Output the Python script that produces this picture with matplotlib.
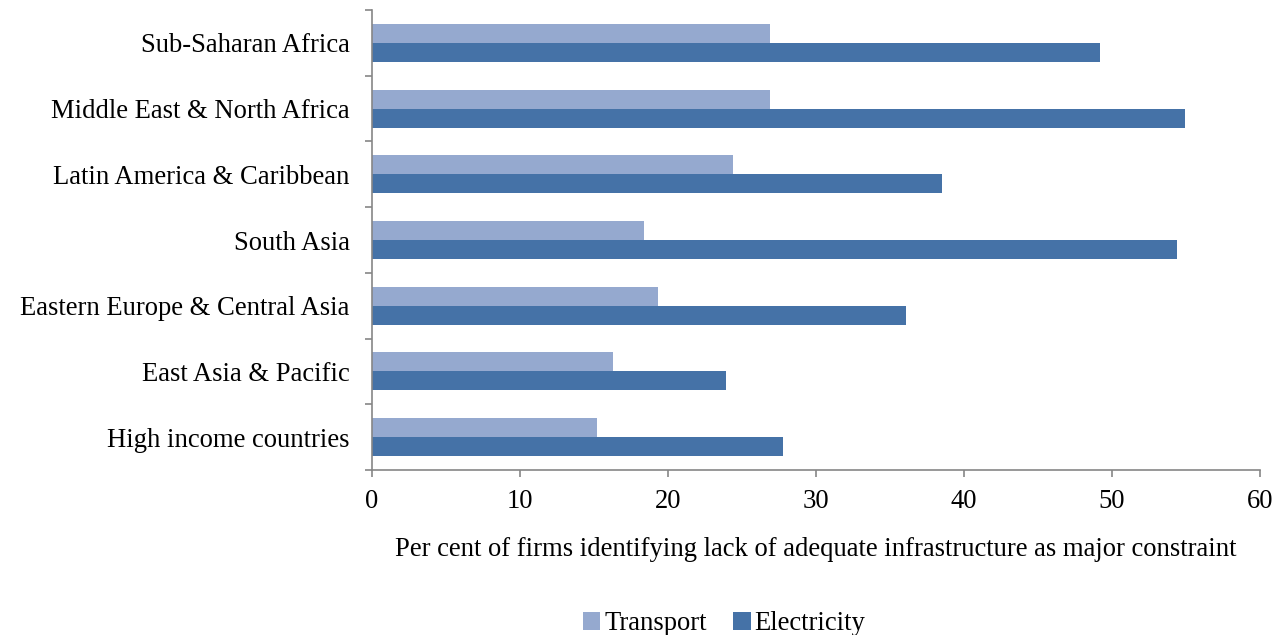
import numpy as np
import matplotlib.pyplot as plt

plt.rcParams['font.family'] = ['Liberation Serif', 'DejaVu Serif']

regions = ['High income countries', 'East Asia & Pacific', 'Eastern Europe & Central Asia',
           'South Asia', 'Latin America & Caribbean', 'Middle East & North Africa',
           'Sub-Saharan Africa']
transport = [15.2, 16.3, 19.3, 18.4, 24.4, 26.9, 26.9]
electricity = [27.8, 23.9, 36.1, 54.4, 38.5, 54.9, 49.2]

fig = plt.figure(figsize=(12.84, 6.35), dpi=100)
ax = fig.add_axes([372 / 1284, 1 - 470 / 635, 888 / 1284, 460 / 635])

y = np.arange(len(regions))
h = 0.29
ax.barh(y + h / 2, transport, height=h, color='#95A9CF', label='Transport')
ax.barh(y - h / 2, electricity, height=h, color='#4572A7', label='Electricity')

ax.set_xlim(0, 60)
ax.set_ylim(-0.5, len(regions) - 0.5)
ax.set_xticks(np.arange(0, 61, 10))
ax.set_yticks(y)
ax.set_yticklabels(regions)
ax.set_yticks(np.arange(-0.5, len(regions), 1), minor=True)
ax.tick_params(axis='y', which='major', length=0, pad=16, labelsize=19.2)
ax.tick_params(axis='y', which='minor', length=5, width=1.2, color='#868686')
ax.tick_params(axis='x', length=5, width=1.2, color='#868686', labelsize=19.2, pad=9)

for s in ['top', 'right']:
    ax.spines[s].set_visible(False)
for s in ['left', 'bottom']:
    ax.spines[s].set_color('#868686')
    ax.spines[s].set_linewidth(1.2)

ax.set_xlabel('Per cent of firms identifying lack of adequate infrastructure as major constraint',
              fontsize=19.2, labelpad=16)

fig.legend(loc='lower center', bbox_to_anchor=(0.564, -0.04), ncol=2, frameon=False,
           fontsize=19.2, handlelength=0.65, handleheight=0.65, handletextpad=0.15,
           columnspacing=1.0)

fig.savefig('out.png', dpi=100)
